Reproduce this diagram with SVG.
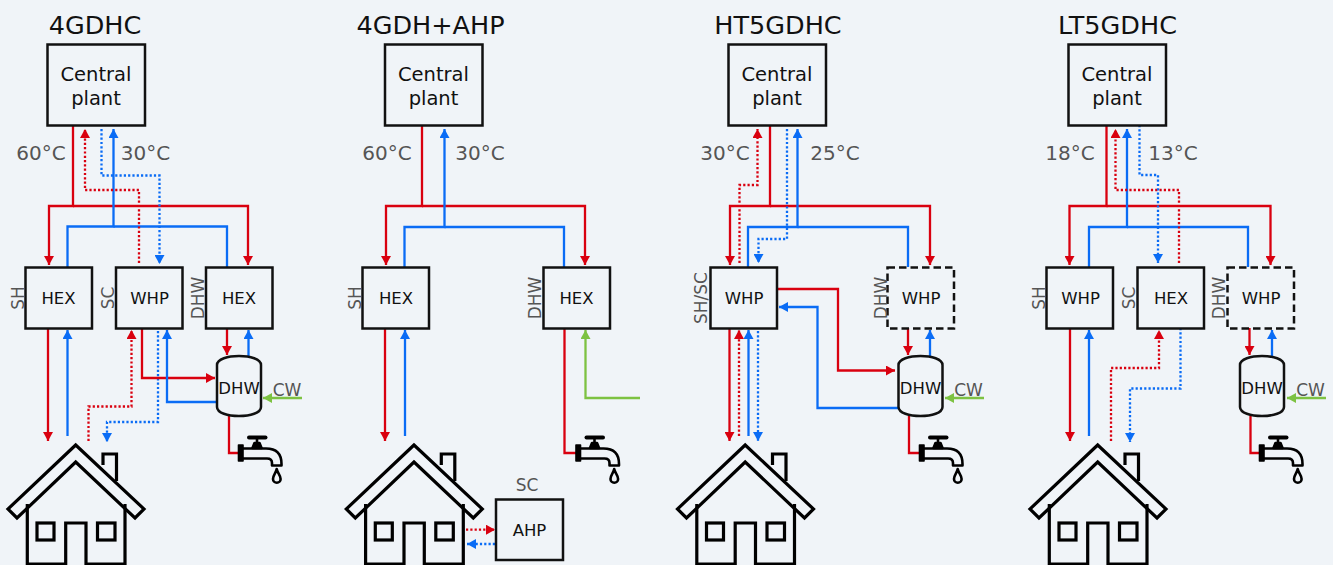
<svg xmlns="http://www.w3.org/2000/svg" xmlns:xlink="http://www.w3.org/1999/xlink" width="1333" height="565" viewBox="0 0 1333 565">
<style>
text{font-family:"DejaVu Sans",Verdana,sans-serif;text-anchor:middle}
.title{font-size:25.5px;fill:#111}
.cp{font-size:19.5px;fill:#111}
.t{font-size:16.5px;fill:#111}
.g{font-size:17px;fill:#555}
.temp{font-size:20px;fill:#555}
.box{fill:none;stroke:#111;stroke-width:2.5}
.dash{stroke-dasharray:7.500 4}
.ol{fill:none;stroke:#000;stroke-width:3.2;stroke-linejoin:miter}
.tp{fill:none;stroke:#000;stroke-width:2.6;stroke-linejoin:round}
.c{fill:none;stroke-width:2.3;stroke-linejoin:miter}
.r{stroke:#d9000f}.b{stroke:#0a6cf5}.gr{stroke:#7dc242}
.d{stroke-dasharray:2.200 2.100;stroke-width:2.300}
.ar{marker-end:url(#mr)}.ab{marker-end:url(#mb)}.ag{marker-end:url(#mg)}
</style>
<defs>
<marker id="mr" markerUnits="userSpaceOnUse" markerWidth="10" markerHeight="10" refX="9" refY="5" orient="auto"><path d="M0,0L9,5L0,10Z" fill="#d9000f"/></marker>
<marker id="mb" markerUnits="userSpaceOnUse" markerWidth="10" markerHeight="10" refX="9" refY="5" orient="auto"><path d="M0,0L9,5L0,10Z" fill="#0a6cf5"/></marker>
<marker id="mg" markerUnits="userSpaceOnUse" markerWidth="10" markerHeight="10" refX="9" refY="5" orient="auto"><path d="M0,0L9,5L0,10Z" fill="#7dc242"/></marker>
<g id="house" class="ol">
<path d="M75.7,445L8,509L17,518L75.7,462L135,518L144,509Z"/>
<path d="M27.3,504V564H65.7V523H86V564H125V504"/>
<rect x="37" y="523" width="17" height="17"/>
<rect x="97.500" y="523" width="17.500" height="17"/>
<path d="M103,465V454H116.500V481"/>
</g>
<g id="tap" class="tp">
<rect x="238.500" y="445" width="4.500" height="16" fill="#000" stroke-width="1.600"/>
<path d="M242,448.500H266Q281.500,448.500 281.500,464V465.500H272V463Q272,458.500 267,458.500H242"/>
<path d="M252.500,448L254.500,443H259.500L261.500,448Z" fill="#000"/>
<path d="M257,443V436"/>
<path d="M249,437.500H265.500" stroke-width="4" stroke-linecap="round"/>
<path d="M276.700,469C276,473 273,475 273,479a3.800,3.800 0 0 0 7.600,0C280.500,475 277.400,473 276.700,469Z"/>
</g>
<path id="tank" d="M217,365C217,359 228,356 239,356C250,356 261,359 261,365V407C261,413 250,416 239,416C228,416 217,413 217,407Z" fill="none" stroke="#111" stroke-width="2.500"/>
</defs>
<rect width="1333" height="565" fill="#f0f4f8"/>

<g id="connectors">
<!-- panel 1 -->
<path class="c r ar" d="M73,125V206H49V265"/>
<path class="c r ar" d="M73,206H248V265"/>
<path class="c b ab" d="M67.500,267V226.500H113.500V129"/>
<path class="c b" d="M113.500,226.500H227V267"/>
<path class="c r d ar" d="M139,263V190H85V129"/>
<path class="c b d ab" d="M101.500,129V175.500H159.500V264"/>
<path class="c r ar" d="M48,328V441"/>
<path class="c b ab" d="M67.500,436V330"/>
<path class="c r d ar" d="M88.500,441V406.500H131.500V330"/>
<path class="c b d ab" d="M158,331V422H107V442"/>
<path class="c r ar" d="M142,328V378H215"/>
<path class="c b ab" d="M217,402H167V330"/>
<path class="c r ar" d="M227,328V355"/>
<path class="c b ab" d="M248.500,356V330"/>
<path class="c gr ag" d="M302,398H263"/>
<path class="c r" d="M229,416V453H239"/>
<!-- panel 2 -->
<path class="c r ar" d="M422,125V206H386V265"/>
<path class="c r ar" d="M422,206H585V265"/>
<path class="c b ab" d="M404.500,267V227H444.500V129"/>
<path class="c b" d="M444.500,227H564V267"/>
<path class="c r ar" d="M385,328V441"/>
<path class="c b ab" d="M405,436V330"/>
<path class="c r" d="M564.500,328V453H576"/>
<path class="c gr ag" d="M640,398H585.500V330"/>
<path class="c r d ar" d="M466,529.700H495"/>
<path class="c b d ab" d="M495,544H467"/>
<!-- panel 3 -->
<path class="c r ar" d="M770,125V206H730V265"/>
<path class="c r ar" d="M770,206H930V265"/>
<path class="c b ab" d="M748,267V227H797.500V129"/>
<path class="c b" d="M797.500,227H908V267"/>
<path class="c r d ar" d="M739.500,263V185H757.500V129"/>
<path class="c b d ab" d="M787,129V239H758.500V263"/>
<path class="c r ar" d="M729.500,328V441"/>
<path class="c r d ar" d="M739,436V330"/>
<path class="c b ab" d="M748.500,436V330"/>
<path class="c b d ab" d="M758,331V441"/>
<path class="c r ar" d="M777,289H838V370.500H895"/>
<path class="c b ab" d="M898,408H817.500V307H779"/>
<path class="c r ar" d="M908,328V355"/>
<path class="c b ab" d="M930,356V330"/>
<path class="c gr ag" d="M984,398H945"/>
<path class="c r" d="M909,416V453H920"/>
<!-- panel 4 -->
<path class="c r ar" d="M1106.500,125V206H1069.500V265"/>
<path class="c r ar" d="M1106.500,206H1270.500V265"/>
<path class="c b ab" d="M1089,267V227H1127V129"/>
<path class="c b" d="M1127,227H1248V267"/>
<path class="c r d ar" d="M1179,263V190H1115.500V129"/>
<path class="c b d ab" d="M1139.500,125V175H1158V263"/>
<path class="c r ar" d="M1070,328V441"/>
<path class="c b ab" d="M1089,436V330"/>
<path class="c r d ar" d="M1111,441V368H1159V330"/>
<path class="c b d ab" d="M1180.500,328V388.500H1130V442"/>
<path class="c r ar" d="M1249.500,328V355"/>
<path class="c b ab" d="M1272,356V330"/>
<path class="c gr ag" d="M1326,398H1287"/>
<path class="c r" d="M1250.500,416V453H1260"/>
</g>

<!-- panel 1 nodes -->
<text class="title" x="95" y="34">4GDHC</text>
<g id="p1-plant"><rect class="box" x="47.500" y="44.500" width="97.500" height="81"/><text class="cp" x="96" y="81">Central</text><text class="cp" x="96" y="105">plant</text></g>
<text class="temp" x="41" y="160">60°C</text><text class="temp" x="145.500" y="160">30°C</text>
<g id="p1-sh"><rect class="box" x="25.500" y="267.500" width="66.500" height="61"/><text class="t" x="58.500" y="304">HEX</text><text class="g" transform="translate(24,298) rotate(-90)">SH</text></g>
<g id="p1-sc"><rect class="box" x="116" y="267.500" width="66.500" height="61"/><text class="t" x="149.500" y="304">WHP</text><text class="g" transform="translate(114,298) rotate(-90)">SC</text></g>
<g id="p1-dhw"><rect class="box" x="206" y="267.500" width="66.500" height="61"/><text class="t" x="239" y="304">HEX</text><text class="g" transform="translate(203.500,298) rotate(-90)">DHW</text></g>
<g id="p1-tank"><use href="#tank"/><text class="t" x="239" y="393.500">DHW</text></g>
<text class="g" x="287" y="396">CW</text>
<g id="p1-tap"><use href="#tap"/></g>
<g id="p1-house"><use href="#house"/></g>

<!-- panel 2 nodes -->
<text class="title" x="430.500" y="34">4GDH+AHP</text>
<g id="p2-plant"><rect class="box" x="385" y="44.500" width="97.500" height="81"/><text class="cp" x="433.500" y="81">Central</text><text class="cp" x="433.500" y="105">plant</text></g>
<text class="temp" x="387" y="160">60°C</text><text class="temp" x="480" y="160">30°C</text>
<g id="p2-sh"><rect class="box" x="362.500" y="267.500" width="66.500" height="61"/><text class="t" x="396" y="304">HEX</text><text class="g" transform="translate(361,298) rotate(-90)">SH</text></g>
<g id="p2-dhw"><rect class="box" x="543.500" y="267.500" width="66.500" height="61"/><text class="t" x="576.500" y="304">HEX</text><text class="g" transform="translate(541,298) rotate(-90)">DHW</text></g>
<g id="p2-tap"><use href="#tap" transform="translate(337.500,0)"/></g>
<g id="p2-house"><use href="#house" transform="translate(338.300,0)"/></g>
<g id="p2-ahp"><rect class="box" x="496" y="499.500" width="67" height="60.500"/><text class="t" x="529.500" y="536">AHP</text><text class="g" x="527" y="491">SC</text></g>

<!-- panel 3 nodes -->
<text class="title" x="778" y="34">HT5GDHC</text>
<g id="p3-plant"><rect class="box" x="728.500" y="44.500" width="97.500" height="81"/><text class="cp" x="777" y="81">Central</text><text class="cp" x="777" y="105">plant</text></g>
<text class="temp" x="725" y="160">30°C</text><text class="temp" x="835" y="160">25°C</text>
<g id="p3-sh"><rect class="box" x="710.500" y="267.500" width="66.500" height="61"/><text class="t" x="744" y="304">WHP</text><text class="g" transform="translate(707.300,298) rotate(-90)">SH/SC</text></g>
<g id="p3-dhw"><rect class="box dash" x="887.500" y="267.500" width="66.500" height="61"/><text class="t" x="921" y="304">WHP</text><text class="g" transform="translate(886.500,298) rotate(-90)">DHW</text></g>
<g id="p3-tank"><use href="#tank" transform="translate(681.500,0)"/><text class="t" x="920.500" y="393.500">DHW</text></g>
<text class="g" x="968.500" y="396">CW</text>
<g id="p3-tap"><use href="#tap" transform="translate(681,0)"/></g>
<g id="p3-house"><use href="#house" transform="translate(669.500,0)"/></g>

<!-- panel 4 nodes -->
<text class="title" x="1117.500" y="34">LT5GDHC</text>
<g id="p4-plant"><rect class="box" x="1068.500" y="44.500" width="97.500" height="81"/><text class="cp" x="1117" y="81">Central</text><text class="cp" x="1117" y="105">plant</text></g>
<text class="temp" x="1070" y="160">18°C</text><text class="temp" x="1173" y="160">13°C</text>
<g id="p4-sh"><rect class="box" x="1046.500" y="267.500" width="66.500" height="61"/><text class="t" x="1080.500" y="304">WHP</text><text class="g" transform="translate(1045,298) rotate(-90)">SH</text></g>
<g id="p4-sc"><rect class="box" x="1137.500" y="267.500" width="66.500" height="61"/><text class="t" x="1171" y="304">HEX</text><text class="g" transform="translate(1135,298) rotate(-90)">SC</text></g>
<g id="p4-dhw"><rect class="box dash" x="1227.500" y="267.500" width="66.500" height="61"/><text class="t" x="1261" y="304">WHP</text><text class="g" transform="translate(1225,298) rotate(-90)">DHW</text></g>
<g id="p4-tank"><use href="#tank" transform="translate(1023,0)"/><text class="t" x="1262" y="393.500">DHW</text></g>
<text class="g" x="1310.500" y="396">CW</text>
<g id="p4-tap"><use href="#tap" transform="translate(1021,0)"/></g>
<g id="p4-house"><use href="#house" transform="translate(1022,0)"/></g>
</svg>
